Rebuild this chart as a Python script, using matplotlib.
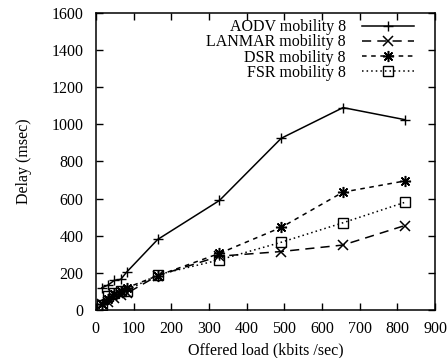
import matplotlib
matplotlib.use("Agg")
import matplotlib.pyplot as plt

# offered load (kbits/sec) at which each protocol was measured
load = [16, 33, 49, 66, 82, 164, 328, 492, 656, 820]

# end-to-end delay (msec)
aodv = [120, 135, 160, 165, 205, 380, 590, 925, 1090, 1025]
lanmar = [30, 45, 65, 80, 90, 185, 290, 315, 350, 455]
dsr = [35, 60, 85, 100, 120, 185, 305, 445, 635, 695]
fsr = [25, 75, 90, 100, 105, 190, 270, 365, 470, 580]

labels = ["AODV mobility 8", "LANMAR mobility 8", "DSR mobility 8", "FSR mobility 8"]
x_ticks = list(range(0, 901, 100))
y_ticks = list(range(0, 1601, 200))

plt.rcParams["font.family"] = ["Liberation Serif", "DejaVu Serif"]
plt.rcParams["font.size"] = 11.5

fig = plt.figure(figsize=(4.48, 3.58), dpi=100)
ax = fig.add_axes([0.214, 0.134, 0.757, 0.830])

ms = 6.5
ax.plot(load, aodv, color="black", lw=1.1, ls="-", marker="+", ms=ms + 1, mew=1.0, label=labels[0])
ax.plot(load, lanmar, color="black", lw=1.1, ls=(0, (6, 4)), marker="x", ms=ms, mew=1.1, label=labels[1])
# gnuplot's "*" point = plus and cross overlaid
ax.plot(load, dsr, color="black", lw=1.1, ls=(0, (3, 3)), marker=(8, 2, 0), ms=ms + 1.5, mew=1.1,
        label=labels[2])
ax.plot(load, fsr, color="black", lw=1.1, ls=(0, (1, 2)), marker="s", ms=ms, mew=1.0,
        mfc="none", label=labels[3])

ax.set_xlim(0, 900)
ax.set_ylim(0, 1600)
ax.set_xticks(x_ticks)
ax.set_yticks(y_ticks)
ax.tick_params(direction="in", length=5, width=1, top=True, right=True, labelsize=11.5)
ax.tick_params(axis="y", pad=9)
ax.tick_params(axis="x", pad=8)
for s in ax.spines.values():
    s.set_linewidth(1.1)

ax.set_xlabel("Offered load (kbits /sec)", fontsize=11.5)
ax.set_ylabel("Delay (msec)", fontsize=11.5)
ax.xaxis.set_label_coords(0.5, -0.108)
ax.yaxis.set_label_coords(-0.189, 0.5)

leg = ax.legend(loc="upper right", frameon=False, markerfirst=False, handlelength=3.3,
                handletextpad=1.0, labelspacing=-0.05, borderaxespad=0.0,
                bbox_to_anchor=(0.958, 1.0), fontsize=11.5)

fig.savefig("out.png", dpi=100)
